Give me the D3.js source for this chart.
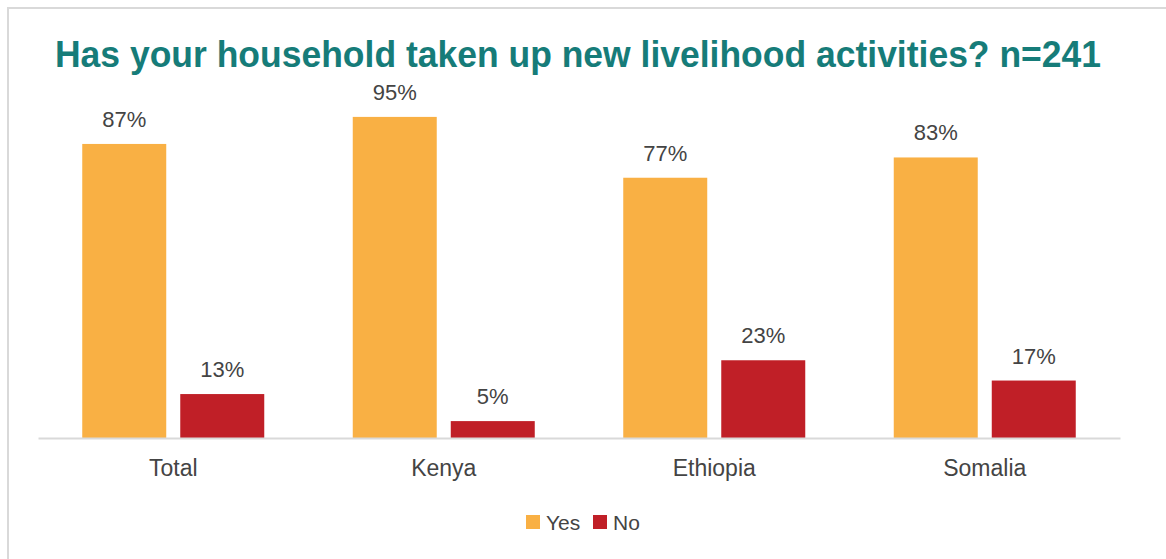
<!DOCTYPE html>
<html>
<head>
<meta charset="utf-8">
<script src="https://cdn.jsdelivr.net/npm/d3@7"></script>
<style>
  html, body { margin: 0; padding: 0; background: #ffffff; }
  svg { display: block; font-family: "Liberation Sans", Arial, Helvetica, sans-serif; }
</style>
</head>
<body>
<svg id="chart" width="1166" height="559"></svg>
<script>
// Survey responses by country (percent of households)
const categories = ["Total", "Kenya", "Ethiopia", "Somalia"];
const seriesNames = ["Yes", "No"];
const yesValues = [87, 95, 77, 83];
const noValues = [13, 5, 23, 17];
const titleText = "Has your household taken up new livelihood activities? n=241";

const colors = { Yes: "#F9B044", No: "#C01F27" };
const textColor = "#444444";

const svg = d3.select("#chart");
const W = 1166, H = 559;

// outer frame
svg.append("rect")
  .attr("x", 8).attr("y", 8)
  .attr("width", W + 20).attr("height", H + 20)
  .attr("fill", "none")
  .attr("stroke", "#d9d9d9")
  .attr("stroke-width", 2);

// title
svg.append("text")
  .attr("x", 578).attr("y", 67)
  .attr("text-anchor", "middle")
  .attr("font-size", 37)
  .attr("font-weight", "bold")
  .attr("fill", "#167C79")
  .attr("textLength", 1046)
  .attr("lengthAdjust", "spacingAndGlyphs")
  .text(titleText);

const plot = { left: 38, right: 1120, top: 100, bottom: 438 };

const x0 = d3.scaleBand().domain(categories).range([plot.left, plot.right]).padding(0);
const groupWidth = 182;
const x1 = d3.scaleBand().domain(seriesNames).range([0, groupWidth]).paddingInner(0.143);
const y = d3.scaleLinear().domain([0, 100]).range([plot.bottom, plot.top]);

const rows = categories.map((c, i) => ({ cat: c, Yes: yesValues[i], No: noValues[i] }));

const groups = svg.append("g").selectAll("g")
  .data(rows).join("g")
  .attr("transform", d => `translate(${x0(d.cat) + (x0.bandwidth() - groupWidth) / 2},0)`);

groups.selectAll("rect")
  .data(d => seriesNames.map(k => ({ key: k, value: d[k] })))
  .join("rect")
  .attr("x", d => x1(d.key))
  .attr("y", d => y(d.value))
  .attr("width", x1.bandwidth())
  .attr("height", d => y(0) - y(d.value))
  .attr("fill", d => colors[d.key]);

groups.selectAll("text.val")
  .data(d => seriesNames.map(k => ({ key: k, value: d[k] })))
  .join("text")
  .attr("class", "val")
  .attr("x", d => x1(d.key) + x1.bandwidth() / 2)
  .attr("y", d => y(d.value) - 17)
  .attr("text-anchor", "middle")
  .attr("font-size", 22)
  .attr("fill", textColor)
  .text(d => d.value + "%");

// category axis
const xAxis = svg.append("g")
  .attr("transform", `translate(0,${plot.bottom})`)
  .call(d3.axisBottom(x0).tickSize(0).tickPadding(22));
xAxis.select(".domain").attr("stroke", "#d9d9d9").attr("stroke-width", 2);
xAxis.selectAll("text")
  .attr("font-size", 23)
  .attr("font-family", "'Liberation Sans', Arial, sans-serif")
  .attr("fill", textColor);

// legend
const legend = svg.append("g").attr("transform", "translate(526,515)");
const legendX = [0, 67];
seriesNames.forEach((k, i) => {
  const g = legend.append("g").attr("transform", `translate(${legendX[i]},0)`);
  g.append("rect").attr("width", 14).attr("height", 14).attr("fill", colors[k]);
  g.append("text").attr("x", 20).attr("y", 14.5)
    .attr("font-size", 21).attr("fill", textColor).text(k);
});
</script>
</body>
</html>
